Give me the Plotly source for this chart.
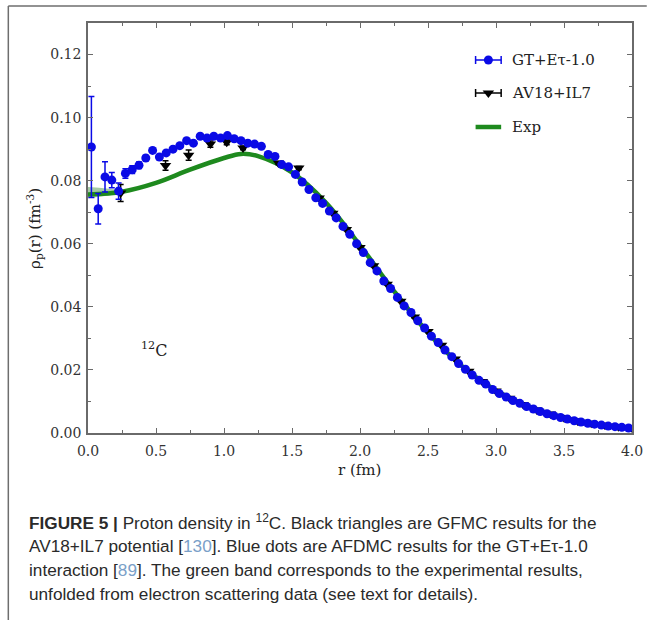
import plotly.graph_objects as go

# ---------------- data ----------------
# AFDMC, GT+Etau-1.0 (blue dots)
gt_r = [0.025 + 0.05 * k for k in range(80)]
gt_rho = [0.0907, 0.0711, 0.0812, 0.0802, 0.0767, 0.0823, 0.0835, 0.0849, 0.0872, 0.0896,
          0.0875, 0.0888, 0.0900, 0.0911, 0.0927, 0.0919, 0.0941, 0.0935, 0.0941, 0.0935,
          0.0943, 0.0933, 0.0927, 0.0919, 0.0916, 0.0909, 0.0883, 0.0877, 0.0851, 0.0844,
          0.0820, 0.0796, 0.0772, 0.0746, 0.0728, 0.0704, 0.0682, 0.0655, 0.0630, 0.0600,
          0.0572, 0.0540, 0.0514, 0.0482, 0.0458, 0.0430, 0.0403, 0.0382, 0.0356, 0.0333,
          0.0307, 0.0287, 0.0263, 0.0242, 0.0220, 0.0202, 0.0184, 0.0167, 0.0155, 0.0138,
          0.0125, 0.0114, 0.0103, 0.0094, 0.0084, 0.0076, 0.0068, 0.0061, 0.0055, 0.0049,
          0.0044, 0.0039, 0.0035, 0.0031, 0.0028, 0.0025, 0.0022, 0.0020, 0.0018, 0.0016]
gt_err = [0.0160, 0.0048, 0.0048, 0.0024, 0.0026, 0.0015, 0.0012, 0.0010, 0.0008, 0.0006] + [0.0004] * 70

# GFMC, AV18+IL7 (black triangles)
av_r = [0.24, 0.57, 0.74, 0.90, 1.02, 1.14, 1.40, 1.55,
        1.70, 1.80, 1.90, 2.00, 2.10, 2.20, 2.30, 2.40, 2.50, 2.60, 2.70, 2.80,
        2.90, 3.00, 3.10, 3.20, 3.30, 3.40, 3.50, 3.60, 3.70, 3.80, 3.90, 4.00]
av_rho = [0.0761, 0.0848, 0.0881, 0.0916, 0.0922, 0.0904, 0.0856, 0.0840,
          0.0745, 0.0697, 0.0645, 0.0588, 0.0530, 0.0472, 0.0418, 0.0368, 0.0322, 0.0278,
          0.0235, 0.0196, 0.0163, 0.0133, 0.0110, 0.0090, 0.0073, 0.0060, 0.0048, 0.0038,
          0.0031, 0.0025, 0.0020, 0.0016]
av_err = [0.0027, 0.0015, 0.0016, 0.0010, 0.0008, 0.0006, 0.0005, 0.0005] + [0.0003] * 24

# Experimental band (green)
exp_r = [0.0, 0.25, 0.5, 0.75, 1.0, 1.125, 1.25, 1.5, 1.75, 2.0, 2.25, 2.5, 2.75, 3.0,
         3.25, 3.5, 3.75, 4.0]
exp_rho = [0.0756, 0.0765, 0.0793, 0.0835, 0.0872, 0.0885, 0.0878, 0.0826, 0.0730, 0.0595,
           0.0450, 0.0318, 0.0212, 0.0135, 0.0083, 0.0049, 0.0028, 0.0016]
band_r = [0.0, 0.1, 0.2, 0.3]
band_lo = [0.0744, 0.0750, 0.0757, 0.0768]
band_hi = [0.0780, 0.0777, 0.0772, 0.0768]

legend_names = ["GT+Eτ-1.0", "AV18+IL7", "Exp"]

BLUE = "#0a0ae6"
GREEN = "#1e8a1e"
SERIF = "DejaVu Serif"

fig = go.Figure()

# band
fig.add_trace(go.Scatter(x=band_r, y=band_lo, mode="lines", line=dict(width=0, shape="spline"),
                         showlegend=False, hoverinfo="skip"))
fig.add_trace(go.Scatter(x=band_r, y=band_hi, mode="lines", line=dict(width=0, shape="spline"),
                         fill="tonexty", fillcolor="rgba(90,160,90,0.55)", showlegend=False,
                         hoverinfo="skip"))
fig.add_trace(go.Scatter(x=exp_r, y=exp_rho, mode="lines", name=legend_names[2],
                         line=dict(color=GREEN, width=4.5, shape="spline"), showlegend=False))

fig.add_trace(go.Scatter(x=av_r, y=av_rho, mode="markers", name=legend_names[1],
                         marker=dict(symbol="triangle-down", size=10, color="black"),
                         error_y=dict(type="data", array=av_err, color="black", thickness=1.5, width=3),
                         showlegend=False))
fig.add_trace(go.Scatter(x=gt_r, y=gt_rho, mode="markers", name=legend_names[0],
                         marker=dict(symbol="circle", size=9, color=BLUE),
                         error_y=dict(type="data", array=gt_err, color=BLUE, thickness=1.5, width=3),
                         showlegend=False))

# ---------- custom legend on overlay axes ----------
L, R, T, B = 88, 641, 23, 433
W, H = R - L, B - T
def fx(px):
    return (px - L) / W
def fy(py):
    return (B - py) / H

leg_y = [fy(60), fy(93), fy(127)]
x0, x1, xc, xt = fx(482), fx(508), fx(495), fx(517)
shapes = []
for i, (col, sym) in enumerate([(BLUE, "circle"), ("black", "triangle-down")]):
    y = leg_y[i]
    shapes.append(dict(type="line", xref="x2", yref="y2", x0=x0, x1=x1, y0=y, y1=y,
                       line=dict(color=col, width=1.5)))
    for xx in (x0, x1):
        shapes.append(dict(type="line", xref="x2", yref="y2", x0=xx, x1=xx,
                           y0=y - 4 / H, y1=y + 4 / H, line=dict(color=col, width=1.5)))
    fig.add_trace(go.Scatter(x=[xc], y=[y], xaxis="x2", yaxis="y2", mode="markers",
                             marker=dict(symbol=sym, size=9 if sym == "circle" else 10, color=col),
                             showlegend=False, hoverinfo="skip"))
shapes.append(dict(type="line", xref="x2", yref="y2", x0=x0, x1=x1, y0=leg_y[2], y1=leg_y[2],
                   line=dict(color=GREEN, width=4.5)))

# outer frame of the figure panel
shapes.append(dict(type="line", xref="paper", yref="paper", x0=fx(7), x1=fx(656), y0=fy(6), y1=fy(6),
                   line=dict(color="#6e6e6e", width=1.5)))
shapes.append(dict(type="line", xref="paper", yref="paper", x0=fx(7), x1=fx(7), y0=fy(6), y1=fy(622),
                   line=dict(color="#6e6e6e", width=1.5)))

annotations = []
for i, name in enumerate(legend_names):
    annotations.append(dict(x=xt, y=leg_y[i], xref="x2", yref="y2", text=name, showarrow=False,
                            xanchor="left", yanchor="middle",
                            font=dict(family=SERIF, size=15, color="#222")))

annotations.append(dict(x=0.49, y=0.0265, xref="x", yref="y", text="<sup>12</sup>C", showarrow=False,
                        font=dict(family=SERIF, size=16, color="#222")))
annotations.append(dict(x=fx(364), y=fy(470), xref="paper", yref="paper", text="r (fm)",
                        xanchor="center", yanchor="middle",
                        showarrow=False, font=dict(family=SERIF, size=15, color="#222")))
annotations.append(dict(x=fx(33), y=fy(228), xref="paper", yref="paper",
                        text="ρ<sub>p</sub>(r) (fm<sup>-3</sup>)", textangle=-90,
                        xanchor="center", yanchor="middle",
                        showarrow=False, font=dict(family=SERIF, size=15, color="#222")))

caption = [
    "<b>FIGURE 5 |</b> Proton density in <sup>12</sup>C. Black triangles are GFMC results for the",
    "AV18+IL7 potential [<span style='color:#7aa0c8'>130</span>]. Blue dots are AFDMC results for the GT+Eτ-1.0",
    "interaction [<span style='color:#7aa0c8'>89</span>]. The green band corresponds to the experimental results,",
    "unfolded from electron scattering data (see text for details).",
]
for i, line in enumerate(caption):
    annotations.append(dict(x=fx(26), y=fy(522 + 24 * i), xref="paper", yref="paper", text=line,
                            showarrow=False, xanchor="left", yanchor="middle", align="left",
                            font=dict(family="Liberation Sans", size=17.2, color="#2a2a2a")))

axis_common = dict(showline=True, linecolor="#6a6a6a", linewidth=1.5, mirror="ticks",
                   ticks="inside", ticklen=5, tickwidth=1, tickcolor="#6a6a6a",
                   showgrid=False, zeroline=False,
                   tickfont=dict(family=SERIF, size=14, color="#333"))

fig.update_layout(
    width=655, height=620,
    margin=dict(l=L, r=655 - R, t=T, b=620 - B),
    paper_bgcolor="white", plot_bgcolor="white",
    xaxis=dict(range=[0, 4], tickmode="linear", tick0=0, dtick=0.5, tickformat=".1f",
               minor=dict(dtick=0.25, ticks="inside", ticklen=3, tickcolor="#6a6a6a"),
               ticklabelstandoff=4, **axis_common),
    yaxis=dict(range=[0, 0.13], tickmode="linear", tick0=0, dtick=0.02, tickformat=".2f",
               minor=dict(dtick=0.01, ticks="inside", ticklen=3, tickcolor="#6a6a6a"),
               ticklabelstandoff=2, **axis_common),
    xaxis2=dict(range=[0, 1], overlaying="x", visible=False, fixedrange=True),
    yaxis2=dict(range=[0, 1], overlaying="y", visible=False, fixedrange=True),
    shapes=shapes,
    annotations=annotations,
    showlegend=False,
)

fig.write_html("out.html", config={"displayModeBar": False},
               post_script="document.body.style.margin='0';document.body.style.overflow='hidden';")
